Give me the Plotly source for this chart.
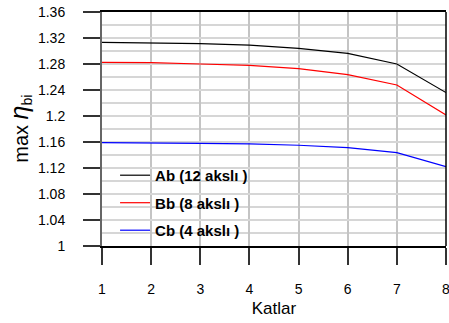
import plotly.graph_objects as go

katlar = [1, 2, 3, 4, 5, 6, 7, 8]
ab_12 = [1.3134, 1.3128, 1.3113, 1.309, 1.304, 1.2964, 1.28, 1.236]
bb_8 = [1.2826, 1.282, 1.280, 1.278, 1.2728, 1.2636, 1.2477, 1.2015]
cb_4 = [1.159, 1.1588, 1.158, 1.157, 1.155, 1.1513, 1.1436, 1.122]
names = ["Ab (12 akslı )", "Bb (8 akslı )", "Cb (4 akslı )"]
colors = ["#000000", "#ff0000", "#0000ff"]
y_ticks = [1, 1.04, 1.08, 1.12, 1.16, 1.2, 1.24, 1.28, 1.32, 1.36]
y_tick_text = ["1", "1.04", "1.08", "1.12", "1.16", "1.2", "1.24", "1.28", "1.32", "1.36"]

fig = go.Figure()
for name, ys, c in zip(names, [ab_12, bb_8, cb_4], colors):
    fig.add_trace(go.Scatter(x=katlar, y=ys, mode="lines", name=name, legendgroup=name,
                             line=dict(color=c, width=1.2)))

font = "Liberation Sans, Arial, sans-serif"
fig.update_layout(
    width=449, height=323,
    margin=dict(l=102, r=3, t=12, b=77, autoexpand=False),
    paper_bgcolor="white", plot_bgcolor="white",
    font=dict(family=font, size=14, color="#000"),
    showlegend=True,
    legend=dict(x=0.038, y=0.372, xanchor="left", yanchor="top",
                bgcolor="rgba(0,0,0,0)", itemwidth=30, tracegroupgap=5,
                font=dict(family=font, size=15, color="#000", weight="bold")),
    xaxis=dict(range=[1, 8], tickvals=katlar, showgrid=True, gridcolor="#c4c4c4", gridwidth=1.5,
               ticks="outside", ticklen=17, tickcolor="#333", tickwidth=1.5,
               showline=True, linecolor="#000", linewidth=1.5, mirror=True,
               ticklabelstandoff=12, tickfont=dict(size=14), automargin=False,
               ticklabeloverflow="allow",
               title=dict(text="Katlar", font=dict(size=17), standoff=7),
               zeroline=False),
    yaxis=dict(range=[1, 1.36], tickvals=y_ticks, ticktext=y_tick_text,
               showgrid=True, gridcolor="#d6d6d6", gridwidth=2,
               minor=dict(dtick=0.02, showgrid=True, gridcolor="#d6d6d6", gridwidth=2),
               ticks="outside", ticklen=17, tickcolor="#333", tickwidth=1.5,
               showline=True, linecolor="#666", linewidth=2, automargin=False,
               ticklabelstandoff=15, tickfont=dict(size=14), ticklabeloverflow="allow",
               zeroline=False),
)
fig.add_shape(type="line", xref="paper", yref="paper", x0=1, x1=1, y0=0, y1=1,
              line=dict(color="#000", width=1.5))
fig.add_annotation(text="max <span style='font-size:25px'><i>η</i></span><sub>bi</sub>",
                   xref="paper", yref="paper",
                   x=-0.239, y=0.5, xanchor="center", yanchor="middle",
                   textangle=-90, showarrow=False, font=dict(family=font, size=20))
fig.write_html("out.html", config={"displayModeBar": False},
               post_script="document.body.style.margin='0px';")
